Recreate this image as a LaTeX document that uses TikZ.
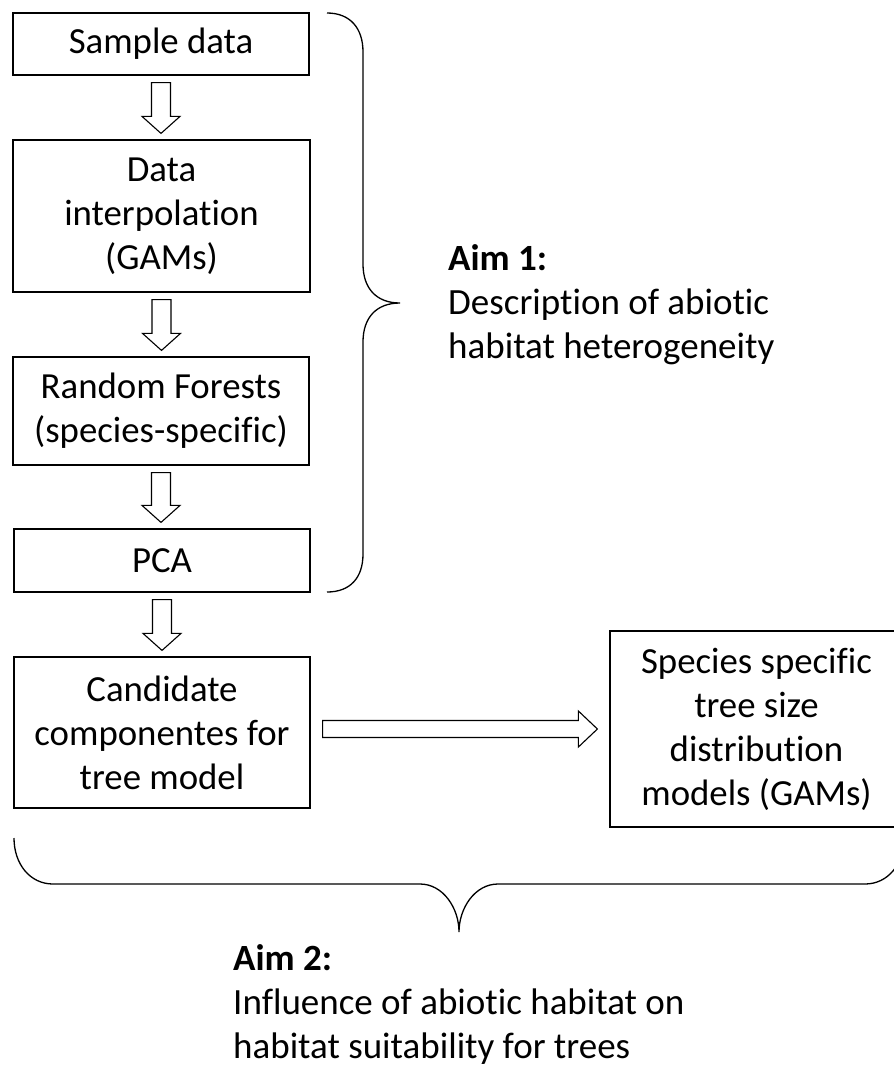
\documentclass[tikz,border=0pt]{standalone}
\usepackage{fontspec}
\setmainfont{Carlito}[Ligatures=NoCommon]
\usetikzlibrary{calc}

\tikzset{
  box/.style={draw, line width=1.2pt, inner sep=0pt, align=flush center, font=\fontsize{36.8}{44}\selectfont},
  blockarrow/.style={draw, line width=1.1pt, fill=white, line join=miter},
  brace/.style={draw, line width=1.3pt},
  aim/.style={inner sep=0pt, align=flush left, anchor=base west, font=\fontsize{37}{44}\selectfont}
}

% hollow block arrow pointing down, from one box to the next
\newcommand{\blockdown}[2]{%
  \draw[blockarrow] let \p1=(#1.south), \p2=(#2.north) in
    ({\x1-9.5pt},{\y1-7pt}) -- ({\x1+9.5pt},{\y1-7pt}) -- ({\x1+9.5pt},{\y2+23pt})
    -- ({\x1+19pt},{\y2+23pt}) -- ({\x1},{\y2+6pt}) -- ({\x1-19pt},{\y2+23pt})
    -- ({\x1-9.5pt},{\y2+23pt}) -- cycle;}

\begin{document}
\begin{tikzpicture}[x=1pt, y=-1pt]
  \useasboundingbox (0,0) rectangle (894,1066);
  % Workflow boxes
  \node[box, text width=296pt, minimum height=62pt] (sample) at (161,44) {Sample data};
  \node[box, text width=297pt, minimum height=152pt] (interp) at (161.5,216) {Data\\interpolation\\(GAMs)};
  \node[box, text width=296pt, minimum height=108pt] (forest) at (161,411) {Random Forests\\(species-specific)};
  \node[box, text width=296pt, minimum height=63pt] (pca) at (162,560.5) {PCA};
  \node[box, text width=296pt, minimum height=151pt] (cand) at (162,732.5) {Candidate\\componentes for\\tree model};
  \node[box, text width=293pt, minimum height=196pt] (sdm) at (756.5,729) {Species specific\\tree size\\distribution\\models (GAMs)};
  % Block arrows
  \blockdown{sample}{interp}
  \blockdown{interp}{forest}
  \blockdown{forest}{pca}
  \blockdown{pca}{cand}
  \draw[blockarrow] let \p1=(cand.east), \p2=(sdm.west) in
    ({\x1+12pt},{\y2+8.5pt}) -- ({\x2-31pt},{\y2+8.5pt}) -- ({\x2-31pt},{\y2+18pt})
    -- ({\x2-12pt},{\y2}) -- ({\x2-31pt},{\y2-18pt}) -- ({\x2-31pt},{\y2-8.5pt})
    -- ({\x1+12pt},{\y2-8.5pt}) -- cycle;
  % Braces
  \draw[brace] (327,13) .. controls (350,13) and (363,28) .. (363,52) -- (363,264)
    .. controls (363,288) and (376,303) .. (400,303)
    .. controls (376,303) and (363,318) .. (363,342) -- (363,554)
    .. controls (363,578) and (350,592) .. (327,592);
  \draw[brace] (14,838) .. controls (14,864) and (30,884) .. (53,884) -- (420,884)
    .. controls (443,884) and (459,908) .. (459,932)
    .. controls (459,908) and (475,884) .. (498,884) -- (865,884)
    .. controls (888,884) and (904,864) .. (904,838);
  % Aims (base anchor sits on the last line)
  \node[aim] (aim1) at (448,358) {\textbf{Aim 1:}\\Description of abiotic\\habitat heterogeneity};
  \node[aim] (aim2) at (233,1058) {\textbf{Aim 2:}\\Influence of abiotic habitat on\\habitat suitability for trees};
\end{tikzpicture}
\end{document}
